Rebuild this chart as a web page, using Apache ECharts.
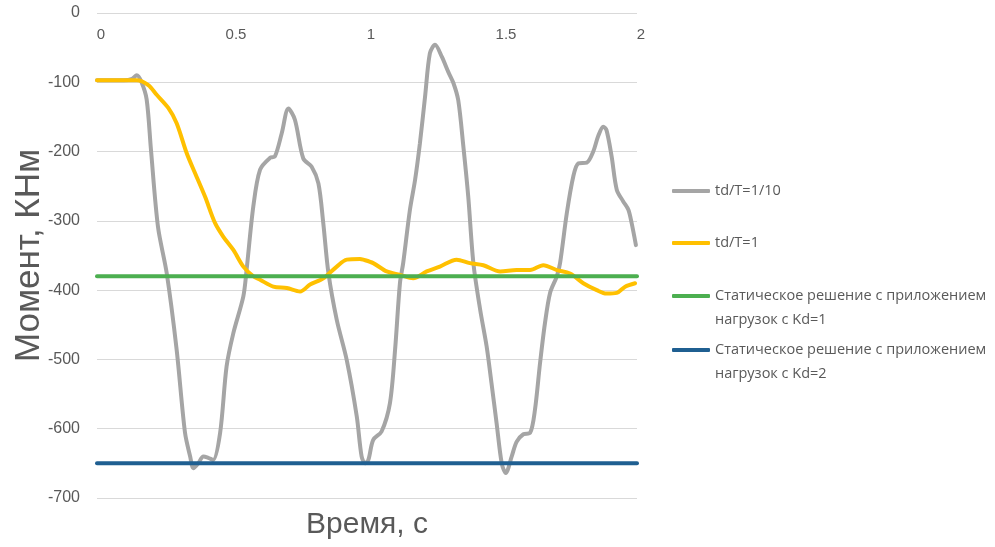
<!DOCTYPE html>
<html><head><meta charset="utf-8">
<script src="https://cdn.jsdelivr.net/npm/echarts@6/dist/echarts.min.js"></script>
<style>html,body{margin:0;padding:0;background:#fff}#c{width:995px;height:547px}</style>
</head><body><div id="c"></div>
<script>
const xTicks = [0, 0.5, 1, 1.5, 2];
const seriesNames = ['td/T=1/10', 'td/T=1', 'Статическое решение с приложением\nнагрузок с Kd=1', 'Статическое решение с приложением\nнагрузок с Kd=2'];
const grayData = [[0,-97],[0.05,-97],[0.1,-97],[0.13,-95],[0.147,-90],[0.165,-100],[0.184,-125],[0.2,-198],[0.226,-309],[0.258,-375],[0.295,-486],[0.326,-606],[0.345,-640],[0.357,-657],[0.375,-650],[0.394,-640],[0.412,-642],[0.43,-645],[0.456,-606],[0.48,-510],[0.505,-462],[0.542,-409],[0.554,-371],[0.579,-279],[0.604,-226],[0.641,-209],[0.659,-207],[0.684,-174],[0.709,-138],[0.733,-154],[0.764,-210],[0.795,-222],[0.82,-246],[0.838,-303],[0.857,-375],[0.888,-443],[0.925,-501],[0.962,-582],[0.98,-640],[0.993,-650],[1.005,-645],[1.023,-616],[1.054,-604],[1.085,-563],[1.104,-486],[1.122,-390],[1.134,-361],[1.159,-284],[1.178,-241],[1.196,-188],[1.215,-121],[1.233,-58],[1.252,-46],[1.277,-63],[1.301,-85],[1.32,-101],[1.338,-126],[1.357,-193],[1.375,-265],[1.394,-361],[1.419,-428],[1.443,-481],[1.461,-534],[1.48,-592],[1.499,-650],[1.514,-664],[1.536,-640],[1.554,-619],[1.579,-608],[1.604,-606],[1.622,-573],[1.641,-505],[1.659,-448],[1.678,-404],[1.703,-380],[1.715,-361],[1.74,-289],[1.764,-236],[1.783,-217],[1.814,-216],[1.838,-200],[1.856,-178],[1.875,-164],[1.887,-169],[1.906,-207],[1.925,-255],[1.949,-272],[1.968,-284],[1.98,-303],[1.996,-335]];
const yellowData = [[0,-97],[0.05,-97],[0.1,-97],[0.147,-97],[0.19,-104],[0.221,-118],[0.264,-137],[0.295,-159],[0.332,-202],[0.363,-231],[0.4,-265],[0.437,-303],[0.468,-323],[0.505,-342],[0.542,-366],[0.579,-380],[0.604,-385],[0.653,-395],[0.703,-397],[0.752,-402],[0.789,-392],[0.838,-383],[0.888,-366],[0.925,-356],[0.974,-355],[0.986,-356],[1.023,-361],[1.073,-373],[1.122,-378],[1.171,-383],[1.221,-373],[1.27,-366],[1.332,-356],[1.381,-361],[1.431,-364],[1.493,-373],[1.554,-371],[1.604,-371],[1.653,-364],[1.703,-371],[1.752,-376],[1.801,-390],[1.851,-400],[1.887,-405],[1.925,-404],[1.956,-395],[1.993,-390]];
const greenData = [[0,-380],[2,-380]];
const blueData = [[0,-650],[2,-650]];
const colors = ['#A5A5A5', '#FFC000', '#4CAF50', '#1F5F91'];

const chart = echarts.init(document.getElementById('c'));
const txt = '#595959';
const font = 'Liberation Sans';
const legendTops = [179, 231, 260, 314];
const legends = seriesNames.map((n, i) => ({
  data: [n], orient: 'vertical', left: 672, top: legendTops[i], padding: 0,
  icon: 'roundRect', itemWidth: 38, itemHeight: 4, itemGap: 0,
  formatter: i >= 2 ? (nm => ' \n' + nm) : (nm => nm),
  textStyle: { color: txt, fontFamily: 'Open Sans', fontSize: 14.5, lineHeight: 24 }
}));
chart.setOption({
  animation: false,
  color: colors,
  grid: { left: 97, right: 358, top: 13, bottom: 49, containLabel: false, outerBoundsMode: 'none' },
  legend: legends,
  xAxis: [{
    type: 'value', min: 0, max: 2, interval: 0.5, position: 'top',
    axisLine: { show: false }, axisTick: { show: false }, splitLine: { show: false },
    axisLabel: { inside: true, margin: 14, color: txt, fontFamily: font, fontSize: 15,
      padding: [0, 0, 0, 8], formatter: v => String(v) }
  }, {
    type: 'value', min: 0, max: 2, position: 'bottom',
    axisLine: { show: false }, axisTick: { show: false }, splitLine: { show: false }, axisLabel: { show: false },
    name: 'Время, с', nameLocation: 'middle', nameGap: 12, nameMoveOverlap: false,
    nameTextStyle: { color: txt, fontFamily: font, fontSize: 30 }
  }],
  yAxis: {
    type: 'value', min: -700, max: 0, interval: 100,
    axisLine: { show: false }, axisTick: { show: false },
    splitLine: { lineStyle: { color: '#D9D9D9', width: 1 } },
    axisLabel: { margin: 17, color: txt, fontFamily: font, fontSize: 16 },
    name: 'Момент, КНм', nameLocation: 'middle', nameGap: 50, nameRotate: 90, nameMoveOverlap: false,
    nameTextStyle: { color: txt, fontFamily: font, fontSize: 35 }
  },
  series: [grayData, yellowData, greenData, blueData].map((d, i) => ({
    name: seriesNames[i], type: 'line', data: d, showSymbol: false, symbol: 'none',
    smooth: i < 2 ? 0.3 : false, lineStyle: { width: 4, color: colors[i], cap: 'round' },
    itemStyle: { color: colors[i] }
  }))
});
</script></body></html>
